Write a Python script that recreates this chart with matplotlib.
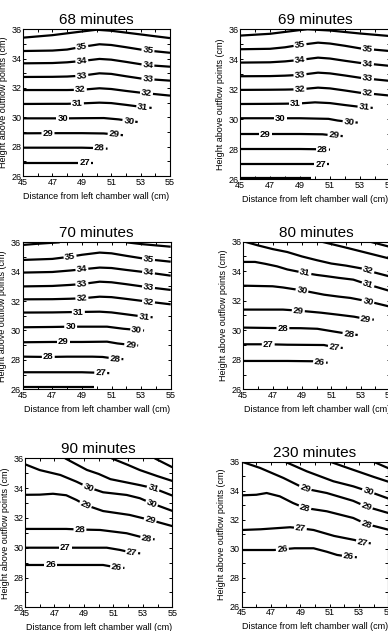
import numpy as np
import matplotlib.pyplot as plt
from matplotlib.ticker import MultipleLocator

plt.rcParams['font.family'] = ['Liberation Sans', 'DejaVu Sans']

W, H = 388, 631

# ---------------- 68 minutes ----------------
levels_68 = [36, 35, 34, 33, 32, 31, 30, 29, 28, 27]
xf_68 = [45, 47, 48, 49, 50.2, 51, 52, 53, 54, 55]
x_68 = [
    [45, 47, 49, 50, 51, 53, 55],
    xf_68, xf_68, xf_68, xf_68,
    [45, 47, 48, 49, 50.2, 51, 52, 53, 53.75],
    [45, 47, 48, 49, 50.5, 51.5, 52.3, 52.8],
    [45, 47, 49, 50.5, 51.3, 51.8],
    [45, 47, 49, 50.2, 50.75],
    [45, 47, 49, 49.78],
]
y_68 = [
    [35.43, 35.6, 35.85, 35.97, 35.9, 35.65, 35.4],
    [34.52, 34.55, 34.62, 34.8, 34.98, 34.93, 34.78, 34.62, 34.5, 34.4],
    [33.68, 33.7, 33.75, 33.84, 33.98, 33.93, 33.78, 33.62, 33.52, 33.45],
    [32.75, 32.76, 32.78, 32.84, 33.0, 32.96, 32.8, 32.65, 32.57, 32.5],
    [31.86, 31.86, 31.86, 31.88, 31.98, 31.93, 31.8, 31.68, 31.58, 31.48],
    [30.91, 30.92, 30.92, 30.95, 31.0, 30.97, 30.85, 30.72, 30.64],
    [29.93, 29.93, 29.93, 29.94, 29.95, 29.86, 29.75, 29.68],
    [28.91, 28.92, 28.92, 28.9, 28.83, 28.78],
    [27.93, 27.93, 27.93, 27.9, 27.86],
    [26.89, 26.89, 26.89, 26.89],
]
lab_68 = [[], [49.0, 53.5], [49.0, 53.5], [49.0, 53.5], [48.9, 53.4],
          [48.7, 53.15], [47.7, 52.2], [46.7, 51.2], [50.2], [49.2]]

# ---------------- 69 minutes ----------------
levels_69 = [36, 35, 34, 33, 32, 31, 30, 29, 28, 27, 26]
xf_69 = [45, 47, 48, 49, 50.2, 51, 52, 53, 54, 55]
x_69 = [
    [45, 47, 49, 49.5, 51, 53, 55],
    xf_69, xf_69, xf_69, xf_69,
    [45, 47, 48, 49, 50, 51, 52, 53, 53.85],
    [45, 47, 49, 50.9, 51.5, 52.3, 52.85],
    [45, 47, 49, 50.5, 51.3, 51.85],
    [45, 47, 49, 50.5, 51.0],
    [45, 47, 49, 50.4, 50.9],
    [45, 49.7],
]
y_69 = [
    [35.58, 35.7, 35.95, 36.0, 35.92, 35.72, 35.55],
    [34.67, 34.7, 34.8, 34.96, 35.11, 35.05, 34.9, 34.73, 34.64, 34.55],
    [33.78, 33.8, 33.86, 33.96, 34.11, 34.05, 33.9, 33.76, 33.66, 33.56],
    [32.87, 32.88, 32.91, 32.96, 33.11, 33.06, 32.92, 32.77, 32.66, 32.56],
    [31.96, 31.97, 31.98, 32.0, 32.11, 32.06, 31.92, 31.77, 31.68, 31.58],
    [31.02, 31.03, 31.04, 31.06, 31.13, 31.08, 30.95, 30.83, 30.76],
    [30.07, 30.07, 30.07, 30.03, 29.92, 29.82, 29.78],
    [29.02, 29.02, 29.02, 29.0, 28.92, 28.88],
    [28.02, 28.02, 28.02, 28.0, 27.98],
    [27.0, 27.0, 27.0, 27.0, 27.0],
    [26.07, 26.07],
]
lab_69 = [[], [49.0, 53.5], [49.0, 53.5], [49.0, 53.5], [49.0, 53.5],
          [48.7, 53.27], [47.7, 52.27], [46.7, 51.27], [50.5], [50.38], []]

# ---------------- 70 minutes ----------------
levels_70 = [36, 35, 34, 33, 32, 31, 30, 29, 28, 27, 26]
xf_70 = [45, 47, 48.2, 49, 50.2, 51, 52, 53.5, 55]
x_70 = [
    [45, 46, 47.5, np.nan, 52, 53, 55],
    xf_70, xf_70, xf_70, xf_70,
    [45, 47, 48.8, 50.2, 51, 52, 53.2, 53.78],
    [45, 47, 48.2, 49.5, 50.7, 51.8, 52.7, 53.2],
    [45, 47, 47.7, 49, 50.7, 51.4, 52.3, 52.8],
    [45, 46.7, 48, 49.7, 50.4, 51.2, 51.8],
    [45, 47, 49, 50.3, 50.85],
    [45, 49.8],
]
y_70 = [
    [35.82, 35.9, 36.0, np.nan, 36.0, 35.88, 35.7],
    [34.8, 34.87, 35.02, 35.15, 35.3, 35.25, 35.08, 34.84, 34.68],
    [33.94, 33.98, 34.08, 34.16, 34.28, 34.25, 34.12, 33.94, 33.73],
    [33.0, 33.03, 33.1, 33.16, 33.32, 33.28, 33.15, 32.94, 32.76],
    [32.12, 32.13, 32.16, 32.19, 32.3, 32.27, 32.15, 31.96, 31.78],
    [31.22, 31.23, 31.26, 31.28, 31.23, 31.1, 30.94, 30.9],
    [30.22, 30.24, 30.26, 30.26, 30.26, 30.12, 30.04, 30.0],
    [29.2, 29.22, 29.22, 29.22, 29.24, 29.12, 29.02, 28.98],
    [28.22, 28.2, 28.22, 28.22, 28.2, 28.09, 28.05],
    [27.16, 27.16, 27.16, 27.12, 27.1],
    [26.18, 26.18],
]
lab_70 = [[], [48.2, 53.5], [49.0, 53.5], [49.0, 53.5], [49.0, 53.5],
          [48.76, 53.2], [48.24, 52.7], [47.75, 52.3], [46.73, 51.24], [50.27], []]

# ---------------- 80 minutes ----------------
levels_80 = [34, 33, 32, 31, 30, 29, 28, 27, 26]
x_80 = [
    [53.64, 55],
    [50.34, 52, 53, 54, 55],
    [45.1, 46, 47, 48, 49, 50, 51, 52, 53, 53.5, 54, 55],
    [45, 45.8, 46.5, 47.3, 48, 49.2, 50, 50.7, 51.5, 52.5, 53.5, 55],
    [45, 47, 47.7, 49, 50.5, 51.5, 52.3, 53.5, 55],
    [45, 47.7, 48.75, 50.3, 51.5, 52.55, 53.35, 53.9],
    [45, 47.1, 48.9, 50.05, 51.2, 52.2, 52.8],
    [45, 46.7, 48, 50.5, 51.2, 51.78],
    [45, 48, 49.8, 50.2, 50.75],
]
y_80 = [
    [36.0, 35.65],
    [36.0, 35.6, 35.35, 35.1, 34.85],
    [36.0, 35.75, 35.5, 35.3, 35.0, 34.75, 34.52, 34.38, 34.2, 34.05, 33.9, 33.64],
    [34.63, 34.63, 34.5, 34.33, 34.12, 33.88, 33.75, 33.66, 33.55, 33.43, 33.1, 32.66],
    [33.02, 32.98, 32.9, 32.7, 32.41, 32.28, 32.19, 31.96, 31.6],
    [31.4, 31.4, 31.33, 31.19, 31.05, 30.92, 30.77, 30.72],
    [30.18, 30.15, 30.14, 30.1, 29.91, 29.75, 29.68],
    [29.05, 29.05, 29.02, 29.0, 28.85, 28.8],
    [27.92, 27.92, 27.9, 27.85, 27.8],
]
lab_80 = [[], [], [53.5], [49.2, 53.5], [49.0, 53.5], [48.75, 53.35],
          [47.7, 52.2], [46.7, 51.2], [50.2]]

# ---------------- 90 minutes ----------------
levels_90 = [33, 32, 31, 30, 29, 28, 27, 26]
x_90 = [
    [53.8, 55],
    [50.88, 52, 52.8, 54, 55],
    [47.72, 49.2, 50.0, 50.8, 51.9, 52.8, 53.7, 55],
    [45, 46, 47.4, 48.5, 49.3, 50.3, 51.9, 52.8, 53.6, 55],
    [45, 46, 46.9, 47.8, 48.5, 49.1, 50.3, 52.1, 53.5, 55],
    [45, 47.8, 48.7, 50.1, 51.9, 52.8, 53.3, 53.8],
    [45, 47.7, 50.55, 51.45, 52.25, 52.82],
    [45, 46.7, 50.3, 51.2, 51.75],
]
y_90 = [
    [36.0, 35.4],
    [36.0, 35.55, 35.21, 34.8, 34.48],
    [36.0, 35.22, 34.95, 34.6, 34.38, 34.2, 34.0, 33.5],
    [35.6, 35.21, 34.88, 34.43, 34.05, 33.72, 33.54, 33.32, 32.98, 32.47],
    [33.55, 33.56, 33.62, 33.52, 33.2, 32.87, 32.46, 32.2, 31.86, 31.45],
    [31.26, 31.26, 31.22, 31.19, 30.97, 30.74, 30.63, 30.56],
    [30.0, 30.0, 30.0, 29.85, 29.67, 29.62],
    [28.84, 28.84, 28.84, 28.68, 28.64],
]
lab_90 = [[], [], [53.7], [49.3, 53.6], [49.1, 53.5], [48.73, 53.26],
          [47.72, 52.24], [46.74, 51.22]]

# ---------------- 230 minutes ----------------
levels_230 = [32, 31, 30, 29, 28, 27, 26]
x_230 = [
    [53.98, 55],
    [51.02, 52, 53, 54, 55],
    [47.95, 49.43, 51.25, 52.61, 53.63, 55],
    [45, 46.25, 47.84, 49.32, 50.8, 52.6, 53.5, 55],
    [45, 46, 46.7, 47.6, 48.5, 49.3, 50.8, 52.6, 53.5, 55],
    [45, 46.3, 48.3, 49.0, 49.9, 51.3, 52.7, 53.2, 53.8],
    [45, 47.2, 47.8, 48.6, 49.9, 50.8, 51.5, 52.3, 52.85],
]
y_230 = [
    [36.0, 35.55],
    [36.0, 35.65, 35.3, 34.95, 34.62],
    [36.0, 35.34, 34.65, 34.3, 33.96, 33.46],
    [36.0, 35.57, 34.88, 34.14, 33.84, 33.3, 32.9, 32.46],
    [33.68, 33.72, 33.84, 33.61, 33.15, 32.81, 32.58, 32.12, 31.7, 31.31],
    [31.29, 31.34, 31.48, 31.41, 31.29, 30.88, 30.6, 30.44, 30.37],
    [29.91, 29.91, 29.96, 30.03, 30.03, 29.79, 29.57, 29.45, 29.41],
]
lab_230 = [[], [], [53.63], [49.32, 53.5], [49.3, 53.5], [49.0, 53.22], [47.77, 52.27]]


def rect(l, t, r, b):
    return [l / W, 1 - b / H, (r - l) / W, (b - t) / H]


panels = [
    ('68 minutes', levels_68, x_68, y_68, lab_68, rect(23, 29.3, 170, 176)),
    ('69 minutes', levels_69, x_69, y_69, lab_69, rect(240, 29.3, 390, 179.3)),
    ('70 minutes', levels_70, x_70, y_70, lab_70, rect(22.7, 242.3, 170.7, 389.3)),
    ('80 minutes', levels_80, x_80, y_80, lab_80, rect(243.3, 241.7, 390, 389.3)),
    ('90 minutes', levels_90, x_90, y_90, lab_90, rect(25, 458.3, 172.3, 607.3)),
    ('230 minutes', levels_230, x_230, y_230, lab_230, rect(241.7, 461.7, 388.4, 606.7)),
]

fig = plt.figure(figsize=(W / 100, H / 100), dpi=100)

for title, levels, xs, ys, labs, pos in panels:
    ax = fig.add_axes(pos)
    ax.set_xlim(45, 55)
    ax.set_ylim(26, 36)
    for lev, lx, ly, lxs in zip(levels, xs, ys, labs):
        ax.plot(lx, ly, color='black', lw=1.6, solid_capstyle='butt')
        for xl in lxs:
            yl = np.interp(xl, lx, ly)
            p1 = ax.transData.transform((xl - 0.2, np.interp(xl - 0.2, lx, ly)))
            p2 = ax.transData.transform((xl + 0.2, np.interp(xl + 0.2, lx, ly)))
            ang = np.degrees(np.arctan2(p2[1] - p1[1], p2[0] - p1[0]))
            ax.text(xl, yl, str(lev), fontsize=6.8, fontweight='bold',
                    ha='center', va='center', rotation=ang, rotation_mode='anchor',
                    bbox=dict(fc='white', ec='none', pad=0.8), zorder=4)

    ax.set_xticks(np.arange(45, 56, 2))
    ax.set_yticks(np.arange(26, 37, 2))
    ax.xaxis.set_minor_locator(MultipleLocator(1))
    ax.yaxis.set_minor_locator(MultipleLocator(1))
    ax.tick_params(which='both', direction='in', top=True, right=True,
                   length=2, width=0.7, labelsize=6.5, pad=1.2)
    for sp in ax.spines.values():
        sp.set_linewidth(0.8)
    ax.set_title(title, fontsize=11, pad=3.5)
    ax.set_xlabel('Distance from left chamber wall (cm)', fontsize=6.5, labelpad=3.5)
    ax.set_ylabel('Height above outflow points (cm)', fontsize=6.5, labelpad=2.5)

plt.savefig('out.png', dpi=100)
